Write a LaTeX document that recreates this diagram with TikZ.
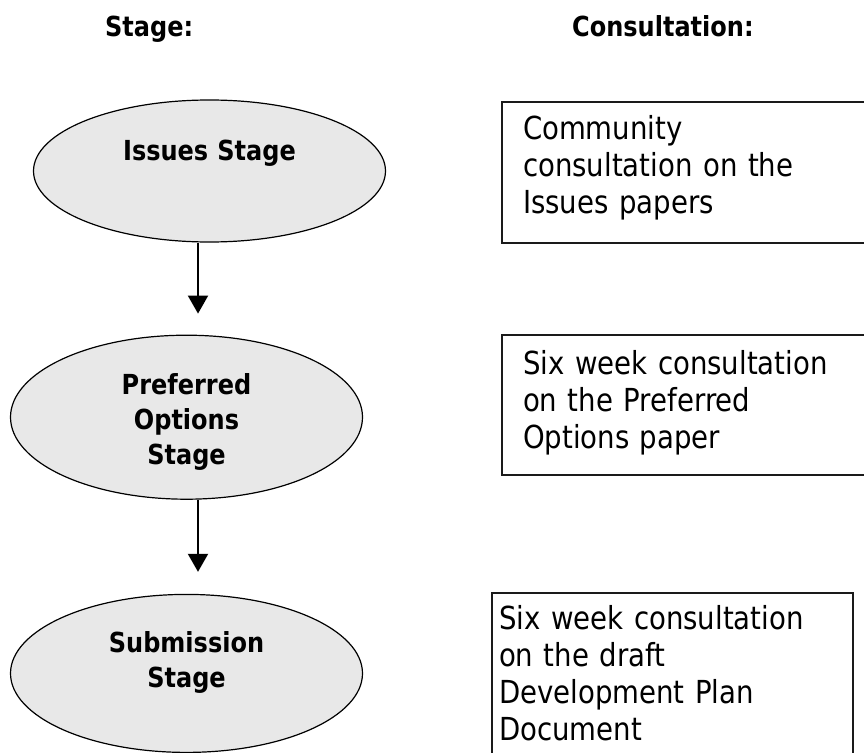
\documentclass[tikz,border=0pt]{standalone}
\usepackage{fontspec}
\setmainfont{DejaVu Sans}[FakeStretch=0.87]
\usepackage{xcolor}
\usepackage{tikz}
\usetikzlibrary{arrows.meta,positioning,shapes.geometric}
\definecolor{gris}{HTML}{E8E8E8}
\definecolor{borde}{HTML}{1A1A1A}

\begin{document}
\begin{tikzpicture}[x=1pt, y=-1pt,
      node distance=92pt,
      titulo/.style={anchor=base west, inner sep=0pt, font=\bfseries\fontsize{27.6pt}{35pt}\selectfont},
      etapa/.style={ellipse, draw=black, line width=1.2pt, fill=gris, inner sep=0pt,
                    minimum width=352pt, text width=230pt, align=center, text height=12pt,
                    font=\bfseries\fontsize{27.6pt}{35pt}\selectfont},
      caja/.style={rectangle, draw=borde, line width=2pt, anchor=north west, inner ysep=0pt,
                   inner xsep=21pt, text width=377pt, align=left,
                   font=\fontsize{31.7pt}{37pt}\selectfont},
      flecha/.style={-{Triangle[width=20pt, length=18pt]}, draw=black, line width=2pt}]

    \useasboundingbox (0,0) rectangle (864,752);
    \clip (0,0) rectangle (864,752);

    \node[titulo] (ts) at (105,37) {Stage:};
    \node[titulo] (tc) at (572,37) {Consultation:};

    \node[etapa, minimum height=142pt, text depth=34pt] (e1) at (209.5,171) {Issues Stage};
    \node[etapa, minimum height=164pt, text depth=58pt, below=of e1, xshift=-23pt] (e2) {Preferred\\Options\\Stage};
    \node[etapa, minimum height=158pt, text depth=54pt, below=94pt of e2] (e3) {Submission\\Stage};

    \node[caja, text height=37pt, text depth=104pt] (c1) at (501,101) {Community\\consultation on the\\Issues papers};
    \node[caja, text height=39pt, text depth=101pt] (c2) at (501,334) {Six week consultation\\on the Preferred\\Options paper};
    \node[caja, inner xsep=7pt, text width=347pt, text height=36pt, text depth=200pt] (c3) at (491,592) {Six week consultation\\on the draft\\Development Plan\\Document};

    \draw[flecha] ([xshift=-11.5pt]e1.south) -- ([xshift=11.5pt, yshift=21pt]e2.north);
    \draw[flecha] ([xshift=11.5pt]e2.south) -- ([xshift=11.5pt, yshift=22pt]e3.north);
  \end{tikzpicture}
\end{document}
